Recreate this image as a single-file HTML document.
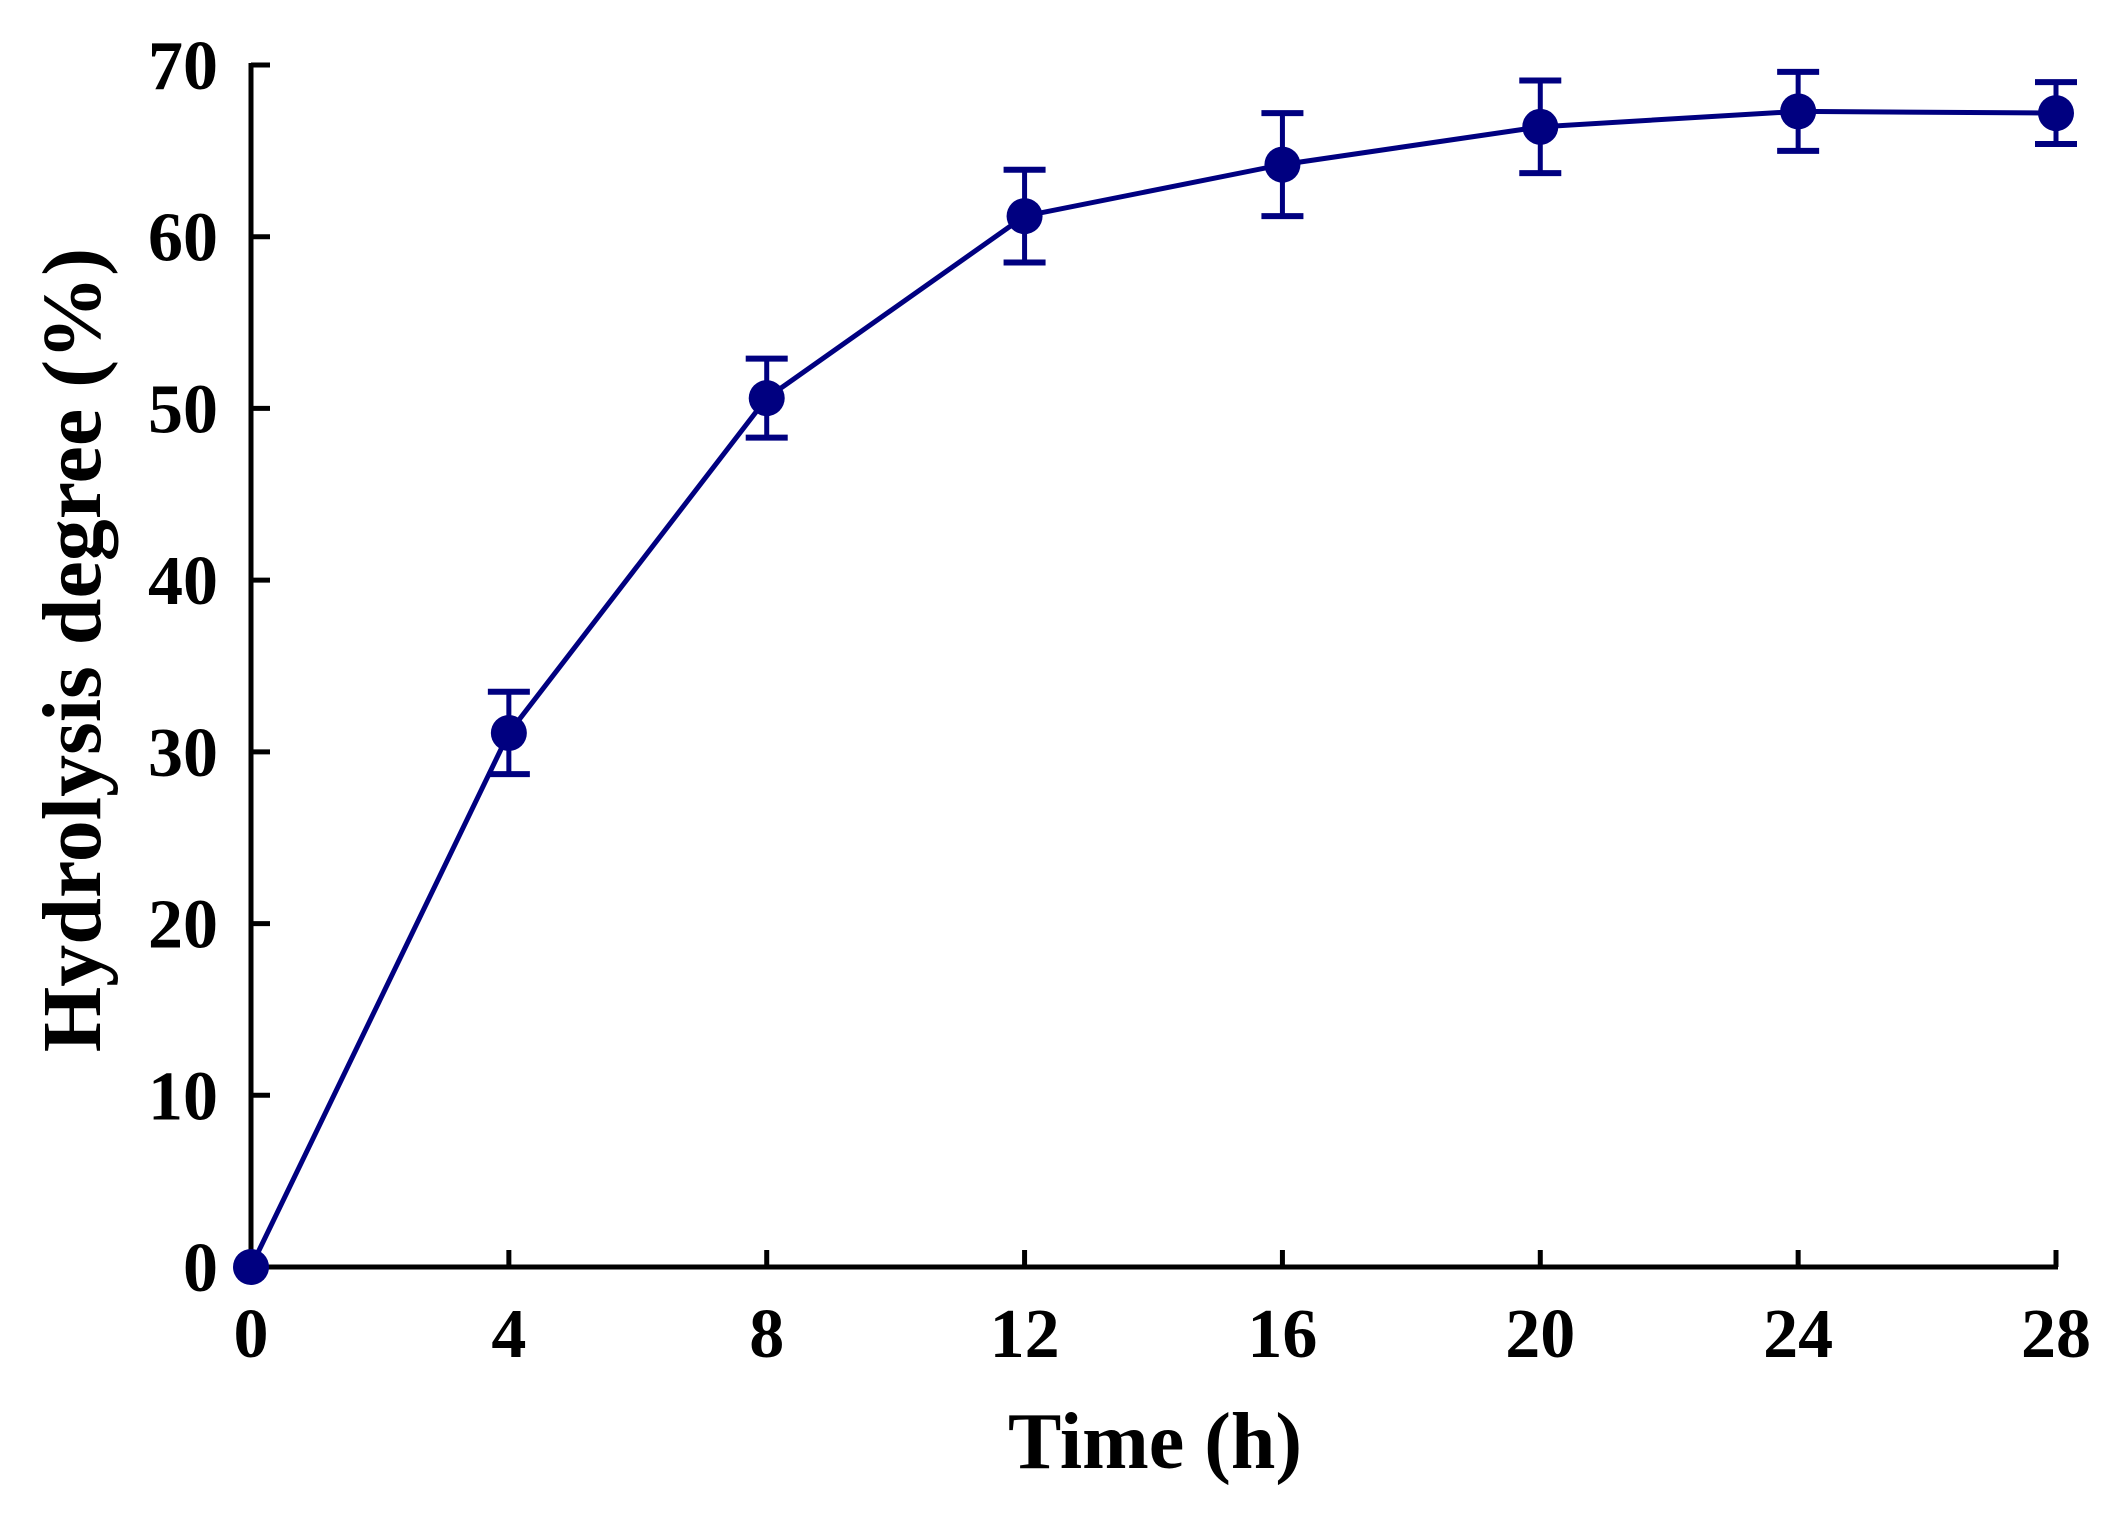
<!DOCTYPE html>
<html><head><meta charset="utf-8"><style>
html,body{margin:0;padding:0;background:#fff;}
svg{display:block;}
text{font-family:"Liberation Serif",serif;font-weight:bold;fill:#000;}
</style></head><body>
<svg id="chart" width="2119" height="1523" viewBox="0 0 2119 1523" xmlns="http://www.w3.org/2000/svg">
<g id="axes"></g>
<g id="series"></g>
<text x="1155" y="1468" font-size="80" text-anchor="middle">Time (h)</text>
<text x="0" y="0" font-size="84" text-anchor="middle" transform="translate(100,650) rotate(-90)">Hydrolysis degree (%)</text>
</svg>
<script>
const times = [0, 4, 8, 12, 16, 20, 24, 28];
const hydrolysis = [0, 31.1, 50.6, 61.2, 64.2, 66.4, 67.3, 67.2];
const errors = [0, 2.4, 2.3, 2.7, 3.0, 2.7, 2.3, 1.8];
const xTicks = [0, 4, 8, 12, 16, 20, 24, 28];
const yTicks = [0, 10, 20, 30, 40, 50, 60, 70];

const NS = "http://www.w3.org/2000/svg";
const X0 = 251, X1 = 2056, Y0 = 1267, Y1 = 65;
function xs(v){ return X0 + (v - 0) / 28 * (X1 - X0); }
function ys(v){ return Y0 - (v - 0) / 70 * (Y0 - Y1); }
function mk(tag, attrs, parent){
  const e = document.createElementNS(NS, tag);
  for (const k in attrs) e.setAttribute(k, attrs[k]);
  parent.appendChild(e);
  return e;
}
const axes = document.getElementById('axes');
const series = document.getElementById('series');

let el = mk('line', {x1:X0-2, y1:Y0, x2:X1+2, y2:Y0, stroke:'#000', 'stroke-width':5}, axes);


el = mk('line', {x1:X0, y1:Y0+2, x2:X0, y2:Y1-2, stroke:'#000', 'stroke-width':5}, axes);



xTicks.forEach(t => {
  const x = xs(t);
  let tk = mk('line', {x1:x, y1:Y0, x2:x, y2:Y0-17, stroke:'#000', 'stroke-width':5}, axes);
  
  
  let lb = mk('text', {x:x, y:1357, 'font-size':70, 'text-anchor':'middle'}, axes);
  lb.textContent = t;
  
  
});
yTicks.forEach(t => {
  const y = ys(t);
  let tk = mk('line', {x1:X0, y1:y, x2:X0+19, y2:y, stroke:'#000', 'stroke-width':5}, axes);
  
  
  let lb = mk('text', {x:218, y:y+24, 'font-size':70, 'text-anchor':'end'}, axes);
  lb.textContent = t;
  
  
});

const col = '#000080';
let pts = times.map((t,i) => xs(t) + ',' + ys(hydrolysis[i])).join(' ');
el = mk('polyline', {points:pts, fill:'none', stroke:col, 'stroke-width':5}, series);



times.forEach((t,i) => {
  const x = xs(t), e = errors[i];
  if (e > 0) {
    const yt = ys(hydrolysis[i] + e), yb = ys(hydrolysis[i] - e);
    let g = mk('g', {}, series);
    
    
    mk('line', {x1:x, y1:yt, x2:x, y2:yb, stroke:col, 'stroke-width':5}, g);
    mk('line', {x1:x-21, y1:yt, x2:x+21, y2:yt, stroke:col, 'stroke-width':6}, g);
    mk('line', {x1:x-21, y1:yb, x2:x+21, y2:yb, stroke:col, 'stroke-width':6}, g);
  }
  let c = mk('circle', {cx:x, cy:ys(hydrolysis[i]), r:18, fill:col}, series);
  
  
});
</script>
</body></html>
